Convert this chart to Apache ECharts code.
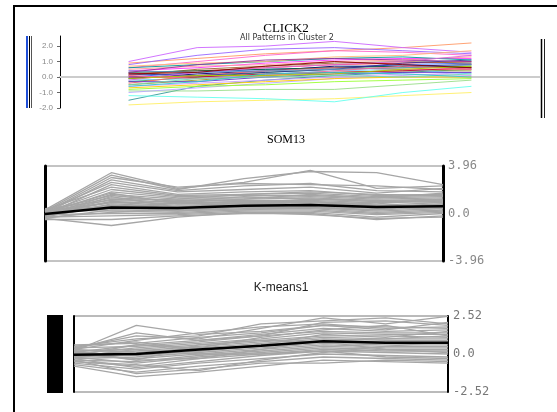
<!DOCTYPE html>
<html>
<head>
<meta charset="utf-8">
<script src="https://cdn.jsdelivr.net/npm/echarts@6/dist/echarts.min.js"></script>
<style>
  html, body { margin: 0; padding: 0; background: #fff; }
  #main { width: 557px; height: 412px; }
</style>
</head>
<body>
<div id="main"></div>
<script>
// CLICK2 panel: 6 time points, coloured patterns
var clickTimes = [1, 2, 3, 4, 5, 6];
var clickLines = [
  [0.9, 1.2, 1.5, 1.7, 1.9, 2.2],
  [1.0, 1.9, 2.0, 2.3, 1.9, 1.6],
  [0.8, 1.4, 1.8, 1.9, 1.7, 1.5],
  [0.6, 1.0, 1.4, 1.7, 1.6, 1.4],
  [-1.5, -0.6, -0.2, 0.1, 0.3, 0.5],
  [-1.8, -1.6, -1.5, -1.4, -1.2, -1.0],
  [-1.2, -1.3, -1.4, -1.6, -1.0, -0.6],
  [-0.9, -0.9, -0.8, -0.8, -0.5, -0.2],
  [-1.0, -0.7, -0.4, -0.1, 0.1, 0.3],
  [0.2, 0.4, 0.6, 0.8, 0.9, 1.0],
  [0.0, 0.3, 0.5, 0.6, 0.8, 0.9],
  [-0.3, 0.0, 0.3, 0.5, 0.6, 0.7],
  [0.4, 0.6, 0.9, 1.1, 1.2, 1.2],
  [-0.1, 0.2, 0.4, 0.7, 0.7, 0.8],
  [-0.5, -0.2, 0.1, 0.3, 0.4, 0.4],
  [0.5, 0.7, 0.8, 1.0, 1.1, 1.3],
  [-0.2, -0.1, 0.2, 0.4, 0.5, 0.2],
  [0.1, 0.5, 0.7, 0.9, 1.0, 0.9],
  [-0.6, -0.4, -0.2, 0.0, 0.2, 0.1],
  [0.3, 0.4, 0.5, 0.6, 0.7, 0.6],
  [-0.4, 0.1, 0.4, 0.6, 0.5, 0.5],
  [0.2, 0.1, 0.3, 0.5, 0.9, 1.1],
  [-0.7, -0.5, -0.3, -0.1, 0.0, 0.0],
  [0.0, 0.0, 0.2, 0.3, 0.4, 0.6],
  [0.6, 0.8, 1.0, 1.2, 1.3, 1.1],
  [-0.2, 0.3, 0.6, 0.8, 1.0, 1.4],
  [-0.8, -0.6, -0.5, -0.3, -0.2, -0.1],
  [0.4, 0.3, 0.4, 0.5, 0.6, 0.8],
  [0.1, -0.1, 0.1, 0.4, 0.7, 0.5],
  [-0.3, -0.3, 0.0, 0.2, 0.3, 0.3],
  [0.7, 0.9, 1.0, 1.3, 1.4, 1.7],
  [-0.5, -0.1, 0.0, 0.1, 0.0, 0.2],
  [0.3, 0.8, 1.1, 1.2, 1.1, 1.0],
  [-0.1, 0.1, 0.1, 0.2, 0.5, 0.7],
  [0.2, 0.3, 0.7, 1.0, 0.8, 0.6],
  [-0.6, -0.3, 0.2, 0.3, 0.2, 0.0]
];
var clickColors = [
  "#ff9966", "#cc66ff", "#9966ff", "#ff66cc", "#339999", "#ffee66",
  "#66ffee", "#99dd88", "#bbaaff", "#ff3333", "#3366ff", "#33aa33",
  "#ff33ff", "#000066", "#999933", "#ff9999", "#66ccff", "#996633",
  "#cc99ff", "#006633", "#ff6666", "#333399", "#ffcc00", "#cc0033",
  "#009999", "#dd66dd", "#99ff33", "#6699cc", "#ff6699", "#6633cc",
  "#ffbb77", "#77ddaa", "#993399", "#aacc00", "#880000", "#33cccc"
];

// SOM13 panel: 7 time points
var somTimes = ["1", "2", "3", "4", "5", "6", "7"];
var somMean = [-0.05, 0.5, 0.45, 0.65, 0.7, 0.55, 0.6];
var somLines = [
  [0.3, 3.4, 2.1, 2.6, 3.6, 2.1, 2.3],
  [0.2, 3.2, 2.0, 2.9, 3.5, 3.4, 2.4],
  [0.1, 3.0, 2.2, 2.5, 2.4, 2.3, 2.0],
  [0.0, 2.8, 1.9, 2.3, 2.5, 1.9, 1.8],
  [0.2, 2.6, 1.8, 2.0, 2.2, 1.7, 2.1],
  [-0.1, 2.4, 1.6, 1.8, 1.9, 1.5, 1.6],
  [0.3, 2.2, 1.5, 1.6, 1.7, 1.4, 1.5],
  [0.1, 2.0, 1.4, 1.5, 1.5, 1.3, 1.4],
  [0.0, 1.8, 1.3, 1.3, 1.4, 1.2, 1.3],
  [-0.2, 1.6, 1.2, 1.2, 1.3, 1.1, 1.2],
  [0.2, 1.5, 1.0, 1.4, 1.2, 1.0, 1.1],
  [0.1, 1.3, 1.1, 1.1, 1.1, 0.9, 1.0],
  [-0.1, 1.2, 0.9, 1.0, 1.0, 0.8, 1.2],
  [0.0, 1.0, 0.8, 0.9, 0.9, 0.7, 0.9],
  [0.2, 0.9, 0.7, 0.8, 1.0, 0.6, 0.8],
  [-0.3, 0.8, 0.6, 0.7, 0.8, 0.5, 0.7],
  [0.1, 0.7, 0.5, 0.9, 0.7, 0.4, 0.6],
  [-0.2, 0.6, 0.4, 0.6, 0.6, 0.3, 0.5],
  [0.0, 0.4, 0.3, 0.5, 0.5, 0.2, 0.4],
  [-0.4, 0.3, 0.2, 0.4, 0.4, 0.1, 0.3],
  [0.3, 0.2, 0.1, 0.3, 0.3, 0.0, 0.2],
  [-0.1, 0.0, 0.0, 0.2, 0.2, -0.1, 0.1],
  [-0.3, -0.2, -0.1, 0.1, 0.1, -0.3, 0.0],
  [-0.5, -0.5, -0.2, 0.0, 0.0, -0.5, -0.2],
  [-0.4, -1.0, -0.3, 0.1, -0.1, -0.4, -0.3],
  [0.4, 1.1, 1.2, 1.6, 1.8, 1.6, 1.5],
  [0.1, 0.5, 0.9, 1.2, 1.6, 1.3, 1.7],
  [-0.2, 1.4, 0.5, 0.9, 1.2, 1.1, 0.9],
  [0.0, 0.9, 1.0, 0.8, 0.6, 1.0, 1.1],
  [0.2, 0.6, 0.2, 0.6, 0.8, 0.7, 0.4],
  [-0.3, 0.1, 0.3, 0.3, 0.5, 0.3, 0.8],
  [0.1, 1.7, 0.8, 1.0, 0.7, 0.6, 0.2]
];

// K-means1 panel: 7 time points
var kmTimes = ["1", "2", "3", "4", "5", "6", "7"];
var kmMean = [-0.05, 0.0, 0.3, 0.55, 0.85, 0.75, 0.75];
var kmLines = [
  [0.2, 1.9, 1.3, 1.5, 1.9, 1.6, 2.1],
  [0.4, 1.2, 1.0, 1.7, 2.4, 2.0, 2.5],
  [0.5, 1.0, 1.2, 2.0, 2.2, 2.4, 2.0],
  [0.3, 0.9, 1.4, 1.8, 2.0, 1.7, 1.8],
  [0.6, 0.7, 1.1, 1.4, 1.9, 1.8, 1.7],
  [0.1, 0.6, 0.9, 1.3, 1.7, 1.5, 1.6],
  [0.4, 0.5, 0.8, 1.2, 1.5, 1.4, 1.4],
  [0.0, 0.4, 0.7, 1.0, 1.4, 1.3, 1.3],
  [0.2, 0.3, 0.6, 0.9, 1.2, 1.2, 1.1],
  [-0.1, 0.2, 0.5, 0.8, 1.1, 1.0, 1.0],
  [0.3, 0.1, 0.4, 0.7, 1.0, 0.9, 0.9],
  [-0.2, 0.0, 0.3, 0.6, 0.9, 0.8, 0.8],
  [0.1, -0.1, 0.2, 0.5, 0.8, 0.7, 0.7],
  [-0.3, -0.2, 0.1, 0.4, 0.7, 0.6, 0.6],
  [0.0, -0.3, 0.0, 0.3, 0.6, 0.5, 0.5],
  [-0.4, -0.5, -0.1, 0.2, 0.5, 0.4, 0.4],
  [-0.2, -0.6, -0.2, 0.1, 0.4, 0.3, 0.3],
  [-0.5, -0.8, -0.3, 0.0, 0.3, 0.2, 0.2],
  [-0.3, -0.9, -0.5, -0.1, 0.2, 0.1, 0.0],
  [-0.6, -1.0, -0.6, -0.3, 0.0, -0.1, -0.2],
  [-0.7, -1.2, -0.8, -0.5, -0.2, -0.3, -0.4],
  [-0.8, -1.5, -1.2, -0.8, -0.4, -0.5, -0.6],
  [-0.4, -1.3, -1.0, -0.6, -0.6, -0.4, -0.5],
  [0.5, 0.8, 0.2, 0.6, 1.3, 1.1, 1.5],
  [-0.1, 0.6, 0.4, 1.1, 1.6, 1.9, 1.2],
  [0.2, -0.4, -0.3, 0.3, 0.9, 1.0, 1.2],
  [-0.5, -0.7, -1.1, -0.4, 0.1, 0.5, 0.8],
  [0.3, 1.4, 0.9, 1.2, 2.1, 2.2, 1.9],
  [-0.2, 0.3, 0.0, 0.0, 0.2, -0.2, -0.3],
  [0.1, -0.4, 0.6, 0.9, 0.8, 0.3, 0.1]
];

var chartDom = document.getElementById("main");
var myChart = echarts.init(chartDom, null, { renderer: "canvas" });

function fmt1(v) {
  return v.toFixed(1);
}
function fmt2(v) {
  return Math.abs(v) < 1e-9 ? "0.0" : v.toFixed(2);
}

var series = [];
clickLines.forEach(function (line, k) {
  series.push({
    type: "line",
    xAxisIndex: 0,
    yAxisIndex: 0,
    symbol: "none",
    silent: true,
    data: clickTimes.map(function (t, i) {
      return [t, line[i]];
    }),
    lineStyle: { color: clickColors[k], width: 1, opacity: 0.9 }
  });
});
somLines.forEach(function (line) {
  series.push({
    type: "line",
    xAxisIndex: 1,
    yAxisIndex: 1,
    symbol: "none",
    silent: true,
    data: line,
    lineStyle: { color: "#a6a6a6", width: 1.3 }
  });
});
series.push({
  type: "line",
  xAxisIndex: 1,
  yAxisIndex: 1,
  symbol: "none",
  silent: true,
  z: 5,
  data: somMean,
  lineStyle: { color: "#000", width: 2.5 }
});
kmLines.forEach(function (line) {
  series.push({
    type: "line",
    xAxisIndex: 2,
    yAxisIndex: 3,
    symbol: "none",
    silent: true,
    data: line,
    lineStyle: { color: "#a6a6a6", width: 1.3 }
  });
});
series.push({
  type: "line",
  xAxisIndex: 2,
  yAxisIndex: 3,
  symbol: "none",
  silent: true,
  z: 5,
  data: kmMean,
  lineStyle: { color: "#000", width: 2.5 }
});

var option = {
  animation: false,
  backgroundColor: "#fff",
  title: [
    {
      text: "CLICK2",
      left: 286,
      top: 22,
      textAlign: "center",
      padding: 0,
      textStyle: { fontFamily: "Liberation Serif", fontSize: 13, fontWeight: "normal", color: "#000" }
    },
    {
      text: "All Patterns in Cluster 2",
      left: 287,
      top: 34,
      textAlign: "center",
      padding: 0,
      textStyle: { fontFamily: "DejaVu Sans", fontSize: 8, fontWeight: "normal", color: "#333" }
    },
    {
      text: "SOM13",
      left: 286,
      top: 134,
      textAlign: "center",
      padding: 0,
      textStyle: { fontFamily: "Liberation Serif", fontSize: 12, fontWeight: "normal", color: "#000" }
    },
    {
      text: "K-means1",
      left: 281,
      top: 282,
      textAlign: "center",
      padding: 0,
      textStyle: { fontFamily: "Liberation Sans", fontSize: 12, fontWeight: "normal", color: "#222" }
    }
  ],
  grid: [
    { left: 60, right: 17, top: 36, height: 72 },
    { left: 45, right: 114, top: 166, height: 95, show: true, borderColor: "#888", borderWidth: 1 },
    { left: 74, right: 109, top: 316, height: 76, show: true, borderColor: "#777", borderWidth: 1 }
  ],
  xAxis: [
    {
      gridIndex: 0,
      type: "value",
      min: 0,
      max: 7,
      axisLine: { show: true, onZero: true, lineStyle: { color: "#cccccc", width: 2 } },
      axisTick: { show: false },
      axisLabel: { show: false },
      splitLine: { show: false }
    },
    {
      gridIndex: 1,
      type: "category",
      data: somTimes,
      boundaryGap: false,
      axisLine: { show: false },
      axisTick: { show: false },
      axisLabel: { show: false }
    },
    {
      gridIndex: 2,
      type: "category",
      data: kmTimes,
      boundaryGap: false,
      axisLine: { show: false },
      axisTick: { show: false },
      axisLabel: { show: false }
    }
  ],
  yAxis: [
    {
      gridIndex: 0,
      type: "value",
      min: -2,
      max: 2.65,
      interval: 1,
      axisLine: { show: true, lineStyle: { color: "#000", width: 1 } },
      axisTick: { show: true, length: 3, lineStyle: { color: "#666" } },
      axisLabel: { show: true, color: "#888", fontSize: 8, margin: 7, showMaxLabel: false, formatter: fmt1 },
      splitLine: { show: false }
    },
    {
      gridIndex: 1,
      type: "value",
      position: "left",
      min: -3.96,
      max: 3.96,
      axisLine: { show: true, lineStyle: { color: "#000", width: 3 } },
      axisTick: { show: false },
      axisLabel: { show: false },
      splitLine: { show: false }
    },
    {
      gridIndex: 1,
      type: "value",
      position: "right",
      min: -3.96,
      max: 3.96,
      interval: 3.96,
      axisLine: { show: true, lineStyle: { color: "#000", width: 3 } },
      axisTick: { show: false },
      axisLabel: { show: true, color: "#888", fontSize: 12, fontFamily: "DejaVu Sans Mono", margin: 5, formatter: fmt2 },
      splitLine: { show: false }
    },
    {
      gridIndex: 2,
      type: "value",
      position: "left",
      min: -2.52,
      max: 2.52,
      axisLine: { show: true, lineStyle: { color: "#000", width: 2 } },
      axisTick: { show: false },
      axisLabel: { show: false },
      splitLine: { show: false }
    },
    {
      gridIndex: 2,
      type: "value",
      position: "right",
      min: -2.52,
      max: 2.52,
      interval: 2.52,
      axisLine: { show: true, lineStyle: { color: "#000", width: 2 } },
      axisTick: { show: false },
      axisLabel: { show: true, color: "#777", fontSize: 12, fontFamily: "DejaVu Sans Mono", margin: 5, formatter: fmt2 },
      splitLine: { show: false }
    }
  ],
  graphic: [
    // outer frame
    { type: "line", shape: { x1: 13, y1: 6, x2: 557, y2: 6 }, style: { stroke: "#000", lineWidth: 2 } },
    { type: "line", shape: { x1: 14, y1: 5, x2: 14, y2: 412 }, style: { stroke: "#000", lineWidth: 2 } },
    // CLICK2 side bars
    { type: "line", shape: { x1: 27, y1: 36, x2: 27, y2: 108 }, style: { stroke: "#1f4fd8", lineWidth: 2 } },
    { type: "line", shape: { x1: 29.5, y1: 36, x2: 29.5, y2: 108 }, style: { stroke: "#000", lineWidth: 1 } },
    { type: "line", shape: { x1: 31.5, y1: 36, x2: 31.5, y2: 108 }, style: { stroke: "#555", lineWidth: 1 } },
    { type: "line", shape: { x1: 541.5, y1: 39, x2: 541.5, y2: 118 }, style: { stroke: "#000", lineWidth: 1.5 } },
    { type: "line", shape: { x1: 544.5, y1: 39, x2: 544.5, y2: 118 }, style: { stroke: "#222", lineWidth: 1 } },
    // K-means1 left bar
    { type: "rect", shape: { x: 47, y: 315, width: 16, height: 78 }, style: { fill: "#000" } }
  ],
  series: series
};

option && myChart.setOption(option);
</script>
</body>
</html>
